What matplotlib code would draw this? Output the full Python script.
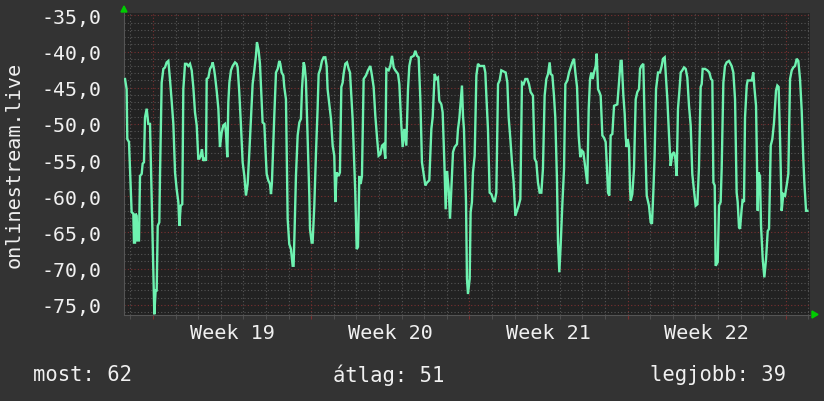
import matplotlib
matplotlib.use("Agg")
import matplotlib.pyplot as plt
import matplotlib.transforms as mtransforms
import numpy as np

# ---- data (hours since start of graph, signal value) ----
hours = [
    1.1, 2.8, 3.5, 5.3, 6.4, 8.1, 9.9, 10.6, 11.7, 12.4, 13.5, 14.2, 15.9, 17.0, 18.8, 19.8,
    21.2, 22.3, 24.1, 25.8, 27.6, 29.0, 31.1, 32.2, 33.6, 34.7, 35.8, 37.5, 38.2, 40.0, 41.8,
    43.5, 45.3, 47.1, 48.8, 50.6, 52.4, 54.2, 55.9, 57.7, 58.8, 60.2, 61.9, 63.0, 64.8, 66.5,
    68.3, 70.1, 71.9, 73.6, 75.4, 77.2, 78.9, 80.0, 81.4, 82.8, 84.2, 86.0, 87.1, 87.8, 89.6,
    91.3, 93.1, 94.2, 95.6, 96.6, 98.4, 100.2, 101.9, 103.7, 105.5, 107.3, 108.3, 109.7, 110.8,
    111.9, 113.6, 115.4, 117.9, 119.6,
    120.7, 122.4, 124.2, 126.0, 127.8, 129.5, 131.3, 133.1, 134.8, 136.6, 138.4, 140.1, 141.2,
    143.0, 144.4, 145.5, 147.2, 149.0, 150.1, 151.5, 153.2, 155.0, 156.1, 157.1, 158.5, 159.6,
    161.4, 163.2, 164.9, 166.0, 167.4, 169.2, 170.2, 172.0, 173.8, 175.5, 177.3, 179.1, 180.1,
    181.2, 182.6, 184.4, 186.2, 187.9, 189.0, 190.8, 191.8, 193.2, 195.0, 196.8, 197.5, 199.3,
    200.3, 202.1, 203.9, 205.6, 206.7, 208.5, 210.2, 212.0, 213.8, 215.2, 216.2, 218.0, 219.8,
    221.6, 223.3, 224.4, 225.8, 227.9, 229.3, 230.8, 232.2, 233.2, 235.0, 236.8, 238.6, 240.0,
    241.0, 242.8,
    245.6, 247.1, 248.5, 249.9, 251.3, 252.7, 254.5, 257.0, 259.1, 261.6, 263.3, 265.1, 266.9,
    268.7, 270.4, 272.2, 274.0, 275.7, 277.5, 278.6, 281.0, 282.8, 284.6, 286.4, 288.1, 291.0,
    292.4, 294.5, 295.9, 297.7, 299.8, 301.6, 303.0, 304.8, 307.6, 309.4, 311.1, 312.9, 314.7,
    316.4, 318.2, 320.0, 321.8, 324.2, 326.4, 327.8, 329.9, 331.7, 333.4, 334.8, 337.0, 338.4,
    340.2, 341.6, 343.0, 344.8, 346.2, 347.6, 349.4, 351.1, 353.6, 354.7, 356.1, 357.5, 358.9,
    360.0, 361.0, 363.2, 364.2, 365.3,
    367.1, 368.1, 369.5, 370.6, 372.4, 374.2, 375.9, 377.7, 382.3, 383.7, 384.8, 386.5, 388.3,
    390.1, 391.9, 393.6, 395.4, 397.2, 398.9, 400.7, 405.3, 407.1, 408.5, 410.3, 412.0, 413.8,
    415.6, 417.3, 419.1, 420.9, 422.6, 424.4, 426.2, 428.3, 430.1, 431.8, 434.3, 436.1, 437.9,
    439.6, 441.4, 443.2, 444.9, 446.7, 448.5, 450.3, 452.0, 453.1, 454.9, 456.6, 458.0, 459.8,
    460.9, 462.3, 463.7, 465.5, 467.3, 468.7, 470.8, 472.6, 474.3, 476.1, 477.9, 479.3, 481.1,
    482.8, 484.6, 486.4, 487.8,
    490.3, 492.0, 493.5, 494.9, 496.3, 497.7, 499.1, 500.9, 502.0, 503.4, 504.8, 506.2, 508.0,
    509.7, 511.5, 512.6, 514.0, 515.4, 516.8, 518.6, 520.4, 523.9, 525.7, 527.4, 528.5, 530.3,
    531.7, 532.8, 533.8, 534.9, 536.3, 537.4, 538.1, 539.8, 541.6, 543.4, 545.1, 546.9, 548.0,
    549.4, 551.5, 552.9, 555.1, 557.5, 559.3, 560.7, 562.1, 563.5, 565.0, 567.1, 569.2, 571.0,
    572.4, 574.2, 575.2, 577.0, 578.8, 580.5, 582.3, 584.1, 585.5, 586.9, 588.3, 589.7, 591.2,
    592.9, 594.7, 596.5, 598.2, 600.0, 601.8, 603.5, 605.3, 607.1, 608.9, 610.6, 612.4,
    613.5, 614.5, 617.0, 619.5, 621.6, 623.4, 624.8, 625.9, 627.3, 628.3, 630.5, 631.9, 633.6,
    634.7, 636.5, 638.2, 640.0, 642.5, 645.3, 647.1, 648.9, 650.6, 651.7, 653.1, 654.2, 655.9,
    657.0, 658.4, 659.5, 661.3, 662.3, 666.6, 668.3, 669.4, 671.2, 673.0, 673.7, 675.4, 676.5,
    678.3, 680.0, 681.8, 683.6, 685.0, 686.8, 688.5, 690.3, 692.4, 693.8, 695.2, 696.7, 698.4,
    700.2, 702.0, 703.7, 705.5, 707.3, 709.1, 710.8, 712.6, 714.4, 716.1, 717.9, 719.7, 721.4,
    722.5, 724.3, 725.7,
]

signal = [
    -43.8, -45.2, -52.1, -52.5, -56.2, -62.2, -62.4, -66.4, -66.4, -62.4, -62.7, -66.1, -66.1, -57.2, -56.9, -55.5,
    -55.3, -49.1, -47.9, -50.0, -50.0, -58.1, -70.0, -76.3, -73.0, -73.0, -64.1, -63.6, -57.4, -44.3, -42.4,
    -42.2, -41.5, -41.3, -43.8, -46.8, -50.0, -56.7, -59.0, -60.8, -64.1, -61.3, -61.1, -45.2, -41.7, -41.7,
    -42.0, -41.7, -42.6, -44.9, -48.4, -50.2, -54.8, -54.8, -54.4, -53.5, -55.1, -54.8, -55.1, -43.8, -43.6,
    -42.4, -42.0, -41.5, -42.4, -43.3, -45.4, -47.9, -53.2, -51.2, -50.2, -50.0, -51.2, -54.6, -47.0,
    -44.3, -42.6, -42.0, -41.5, -41.7,
    -42.2, -45.6, -50.2, -55.3, -57.2, -59.9, -58.3, -53.9, -49.3, -44.5, -42.6, -40.6, -38.7,
    -39.9, -41.7, -44.9, -49.8, -50.0, -53.2, -56.9, -57.8, -58.3, -59.7, -58.1, -53.0, -48.9,
    -42.9, -42.4, -41.3, -41.7, -42.9, -43.3, -44.9, -46.6, -63.1, -66.6, -67.3, -69.6, -69.6,
    -64.5, -57.2, -51.6, -49.8, -49.3, -45.2, -41.5, -42.0, -44.0, -52.1, -59.9, -64.5, -66.4,
    -66.4, -61.3, -53.9, -47.9, -43.1, -42.4, -41.3, -40.8, -40.8, -42.0, -45.2, -47.3, -49.3,
    -53.0, -54.4, -60.8, -56.7, -57.2, -56.7, -44.9, -44.3, -43.1, -41.7, -41.5, -42.4, -42.9,
    -45.2, -49.3,
    -59.5, -67.3, -67.0, -57.2, -58.3, -57.2, -43.8, -43.3, -42.6, -42.0, -43.3, -44.9, -48.9,
    -51.9, -54.4, -54.2, -53.0, -52.8, -54.8, -42.4, -42.6, -42.0, -40.6, -42.2, -42.6, -43.1,
    -44.5, -50.2, -53.2, -50.7, -53.0, -45.2, -42.0, -40.8, -40.6, -39.9, -40.6, -40.8, -46.6,
    -55.3, -56.9, -58.5, -58.1, -57.8, -50.7, -49.1, -43.1, -43.8, -43.6, -46.8, -47.3, -48.4,
    -55.3, -61.8, -56.5, -59.0, -63.1, -59.0, -53.9, -53.2, -52.8, -50.7, -49.3, -47.0, -44.7,
    -48.9, -50.7, -60.8, -71.4, -73.5,
    -71.4, -62.2, -60.8, -56.7, -54.4, -43.3, -41.7, -42.0, -42.0, -42.9, -46.1, -50.7, -59.5,
    -59.7, -60.4, -60.8, -59.5, -44.5, -44.0, -42.6, -42.9, -44.3, -49.1, -52.1, -55.3, -58.1,
    -62.7, -62.0, -61.3, -60.4, -44.3, -44.5, -43.8, -43.8, -44.5, -45.6, -46.1, -54.8, -55.3,
    -58.1, -59.5, -59.5, -56.2, -46.1, -43.8, -43.1, -41.5, -43.1, -43.3, -46.1, -49.1, -57.8,
    -66.4, -70.5, -66.8, -61.1, -56.2, -44.5, -44.0, -42.9, -42.2, -41.5, -41.0, -42.9, -44.9,
    -51.6, -54.6, -53.7, -53.9,
    -56.5, -58.3, -47.9, -43.8, -42.9, -43.8, -42.9, -42.0, -40.3, -45.2, -45.6, -46.1, -51.6,
    -51.9, -52.5, -55.3, -59.5, -59.9, -51.6, -51.4, -47.5, -47.3, -44.3, -41.3, -41.3, -46.1,
    -48.6, -51.9, -53.2, -52.1, -53.2, -59.0, -60.6, -59.7, -56.2, -46.6, -45.6, -45.2, -42.4,
    -42.0, -41.7, -49.8, -59.9, -61.3, -63.6, -63.8, -59.5, -54.4, -45.2, -42.9, -42.9, -42.0,
    -41.0, -40.8, -42.9, -46.6, -51.6, -55.8, -54.2, -53.9, -54.8, -57.2, -47.9, -45.6, -42.9,
    -42.6, -42.2, -42.4, -43.6, -47.5, -50.2, -56.9, -59.2, -61.3, -61.1, -56.0, -44.9,
    -44.5, -42.4, -42.4, -42.6, -42.9, -43.8, -44.0, -58.1, -58.5, -69.6, -69.1, -61.3, -60.8,
    -56.2, -44.3, -42.0, -41.5, -41.3, -42.0, -42.9, -46.6, -59.5, -60.8, -64.3, -64.5, -61.8,
    -60.4, -60.8, -49.1, -44.7, -44.0, -44.0, -42.9, -44.9, -47.5, -62.0, -56.7, -57.2, -64.1,
    -68.7, -71.2, -68.7, -64.8, -64.5, -53.0, -52.1, -49.8, -45.4, -44.7, -44.9, -52.1, -62.0,
    -59.7, -59.9, -58.5, -56.9, -43.8, -42.6, -42.2, -42.0, -41.0, -41.3, -43.8, -48.2, -54.8,
    -58.1, -62.0, -62.0,
]

week_labels = ["Week 19", "Week 20", "Week 21", "Week 22"]
first_monday_hour = 30.8      # first week boundary (hours since graph start)
graph_span_hours = 728.5
y_label = "onlinestream.live"
y_ticks = [-75, -70, -65, -60, -55, -50, -45, -40, -35]
legend_items = [("most:", 62), ("átlag:", 51), ("legjobb:", 39)]

# ---- style ----
BG = "#333333"
PLOT_BG = "#222222"
LINE = "#6EF2B0"
TXT = "#f0f0f0"
MINOR = "#555555"
MAJOR = "#7a3030"
FONT = "DejaVu Sans Mono"

fig = plt.figure(figsize=(8.24, 4.02), dpi=100, facecolor=BG)
ax = fig.add_axes([124 / 824, 1 - 316 / 402, (810 - 124) / 824, (316 - 14) / 402])
ax.set_facecolor(PLOT_BG)

ax.set_xlim(0, graph_span_hours)
ax.set_ylim(-76.4, -34.68)

# grids
day_lines = np.arange(first_monday_hour - 24, graph_span_hours, 24)
week_lines = np.arange(first_monday_hour, graph_span_hours, 168)
for d in day_lines:
    if not np.any(np.isclose(week_lines, d)):
        ax.axvline(d, color=MINOR, lw=0.8, ls=(0, (1, 2)), zorder=1)
for w in week_lines:
    ax.axvline(w, color=MAJOR, lw=0.8, ls=(0, (1, 2)), zorder=1)
for v in np.arange(-76, -34, 1):
    if v % 5 != 0:
        ax.axhline(v, color=MINOR, lw=0.8, ls=(0, (1, 2)), zorder=1)
for v in y_ticks:
    ax.axhline(v, color=MAJOR, lw=0.8, ls=(0, (1, 2)), zorder=1)

ax.plot(hours, signal, color=LINE, lw=1.7, zorder=3, solid_joinstyle="miter")

# axes / ticks
for s in ["top", "right"]:
    ax.spines[s].set_visible(False)
ax.spines["left"].set_color("#555555")
ax.spines["bottom"].set_color("#555555")
ax.set_yticks(y_ticks)
ax.set_yticklabels([f"{v:.1f}".replace(".", ",") for v in y_ticks],
                   fontfamily=FONT, fontsize=14.3, color=TXT)
ax.tick_params(axis="y", length=0, pad=16)
ax.set_xticks(week_lines)
ax.set_xticklabels([])
ax.tick_params(axis="x", length=3, color=MAJOR)
ax.set_xticks(day_lines, minor=True)
ax.tick_params(axis="x", which="minor", length=3, color=MINOR)

trans = mtransforms.blended_transform_factory(ax.transData, ax.transAxes)
for i, lab in enumerate(week_labels):
    ax.text(week_lines[i] + 84, -0.025, lab, transform=trans, ha="center", va="top",
            fontfamily=FONT, fontsize=14.5, color=TXT)

fig.text(14 / 824, 1 - 165 / 402, y_label, rotation=90, ha="center", va="center",
         fontfamily=FONT, fontsize=14.5, color=TXT)

# arrows
fig.patches.append(plt.Polygon([[121 / 824, 1 - 13 / 402], [127 / 824, 1 - 13 / 402], [124 / 824, 1 - 7 / 402]],
                               closed=True, transform=fig.transFigure, color="#00cc00", zorder=5))
fig.patches.append(plt.Polygon([[812 / 824, 1 - 312 / 402], [812 / 824, 1 - 319 / 402], [818 / 824, 1 - 315.5 / 402]],
                               closed=True, transform=fig.transFigure, color="#00cc00", zorder=5))

# legend / statistics
stat_x = [33, 333, 650]
for (lab, val), xp in zip(legend_items, stat_x):
    fig.text(xp / 824, 1 - 375 / 402, f"{lab} {val}", ha="left", va="center",
             fontfamily=FONT, fontsize=14.8, color=TXT)

fig.savefig("out.png", dpi=100, facecolor=BG)
